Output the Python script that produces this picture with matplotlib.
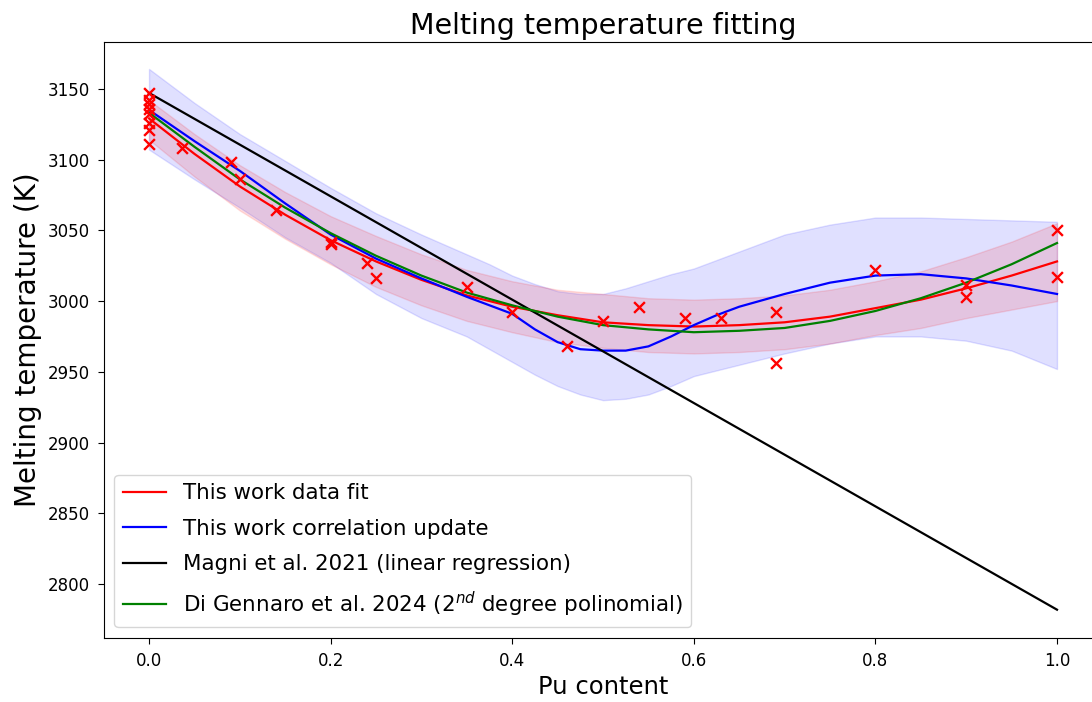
import matplotlib

matplotlib.use("Agg")

import matplotlib.pyplot as plt
import numpy as np

# measured melting points
pu_meas = [0.0, 0.0, 0.0, 0.0, 0.0, 0.0, 0.0, 0.0,
           0.036, 0.09, 0.10, 0.14, 0.20, 0.20, 0.24, 0.25,
           0.35, 0.40, 0.46, 0.50, 0.54, 0.59, 0.63, 0.69, 0.69,
           0.80, 0.90, 0.90, 1.0, 1.0]
tm_meas = [3147, 3142, 3139, 3136, 3132, 3126, 3121, 3111,
           3108, 3098, 3086, 3064, 3042, 3040, 3027, 3016,
           3010, 2992, 2968, 2986, 2996, 2988, 2988, 2992, 2956,
           3022, 3011, 3003, 3050, 3017]

# curves sampled on a common grid
pu_grid = [0.0, 0.05, 0.1, 0.15, 0.2, 0.25, 0.3, 0.35, 0.4, 0.45, 0.5,
           0.55, 0.6, 0.65, 0.7, 0.75, 0.8, 0.85, 0.9, 0.95, 1.0]
fit_tm = [3129, 3104, 3081, 3061, 3043, 3028, 3015, 3004, 2996, 2990, 2985,
          2983, 2982, 2983, 2985, 2989, 2995, 3001, 3009, 3018, 3028]
fit_hi = [3142, 3118, 3096, 3077, 3060, 3046, 3033, 3022, 3014, 3008, 3005,
          3002, 3001, 3002, 3004, 3008, 3014, 3021, 3031, 3042, 3055]
fit_lo = [3114, 3088, 3064, 3044, 3026, 3010, 2997, 2986, 2978, 2971, 2967,
          2964, 2963, 2964, 2966, 2970, 2976, 2981, 2988, 2994, 3000]

corr_grid = [0.0, 0.05, 0.1, 0.15, 0.2, 0.25, 0.3, 0.35, 0.375, 0.4, 0.425,
             0.45, 0.475, 0.5, 0.525, 0.55, 0.575, 0.6, 0.625, 0.65, 0.7,
             0.75, 0.8, 0.85, 0.9, 0.95, 1.0]
corr_tm = [3135, 3113, 3092, 3069, 3047, 3030, 3016, 3003, 2997, 2991, 2980,
           2971, 2966, 2965, 2965, 2968, 2975, 2983, 2990, 2996, 3005,
           3013, 3018, 3019, 3016, 3011, 3005]
corr_hi = [3164, 3140, 3118, 3099, 3080, 3062, 3047, 3033, 3026, 3018, 3012,
           3007, 3005, 3005, 3009, 3014, 3019, 3023, 3029, 3035, 3047,
           3054, 3059, 3059, 3058, 3057, 3056]
corr_lo = [3107, 3086, 3066, 3045, 3027, 3005, 2988, 2975, 2966, 2957, 2948,
           2940, 2934, 2930, 2931, 2934, 2940, 2947, 2951, 2955, 2963,
           2970, 2975, 2975, 2972, 2965, 2952]

magni_pu = [0.0, 1.0]
magni_tm = [3147, 2782]

digennaro_tm = [3133, 3109, 3086, 3066, 3048, 3032, 3018, 3006, 2997, 2989, 2983,
                2980, 2978, 2979, 2981, 2986, 2993, 3002, 3013, 3026, 3041]

fig = plt.figure(figsize=(10.92, 7.02), dpi=100)
ax = fig.add_axes([103.6 / 1092, 64 / 702, 998.8 / 1092, 596 / 702])

ax.fill_between(corr_grid, corr_lo, corr_hi, color="blue", alpha=0.12)
ax.fill_between(pu_grid, fit_lo, fit_hi, color="red", alpha=0.12)

ax.plot(pu_grid, fit_tm, color="red", lw=1.6, label="This work data fit")
ax.plot(corr_grid, corr_tm, color="blue", lw=1.6, label="This work correlation update")
ax.plot(magni_pu, magni_tm, color="black", lw=1.6, label="Magni et al. 2021 (linear regression)")
ax.plot(pu_grid, digennaro_tm, color="green", lw=1.6,
        label="Di Gennaro et al. 2024 (2$^{nd}$ degree polinomial)")
ax.scatter(pu_meas, tm_meas, marker="x", color="red", s=60, linewidths=1.7, zorder=5)

ax.set_xlim(-0.05, 1.05)
ax.set_ylim(2762, 3183)
ax.set_xticks(np.arange(0, 1.01, 0.2))
ax.set_yticks(np.arange(2800, 3151, 50))
ax.tick_params(labelsize=12, length=4.5, pad=5.5)
ax.set_xlabel("Pu content", fontsize=17.5)
ax.set_ylabel("Melting temperature (K)", fontsize=20)
ax.set_title("Melting temperature fitting", fontsize=20.5)
ax.legend(loc="lower left", fontsize=15.4, labelspacing=0.72)

fig.savefig("out.png", dpi=100)
